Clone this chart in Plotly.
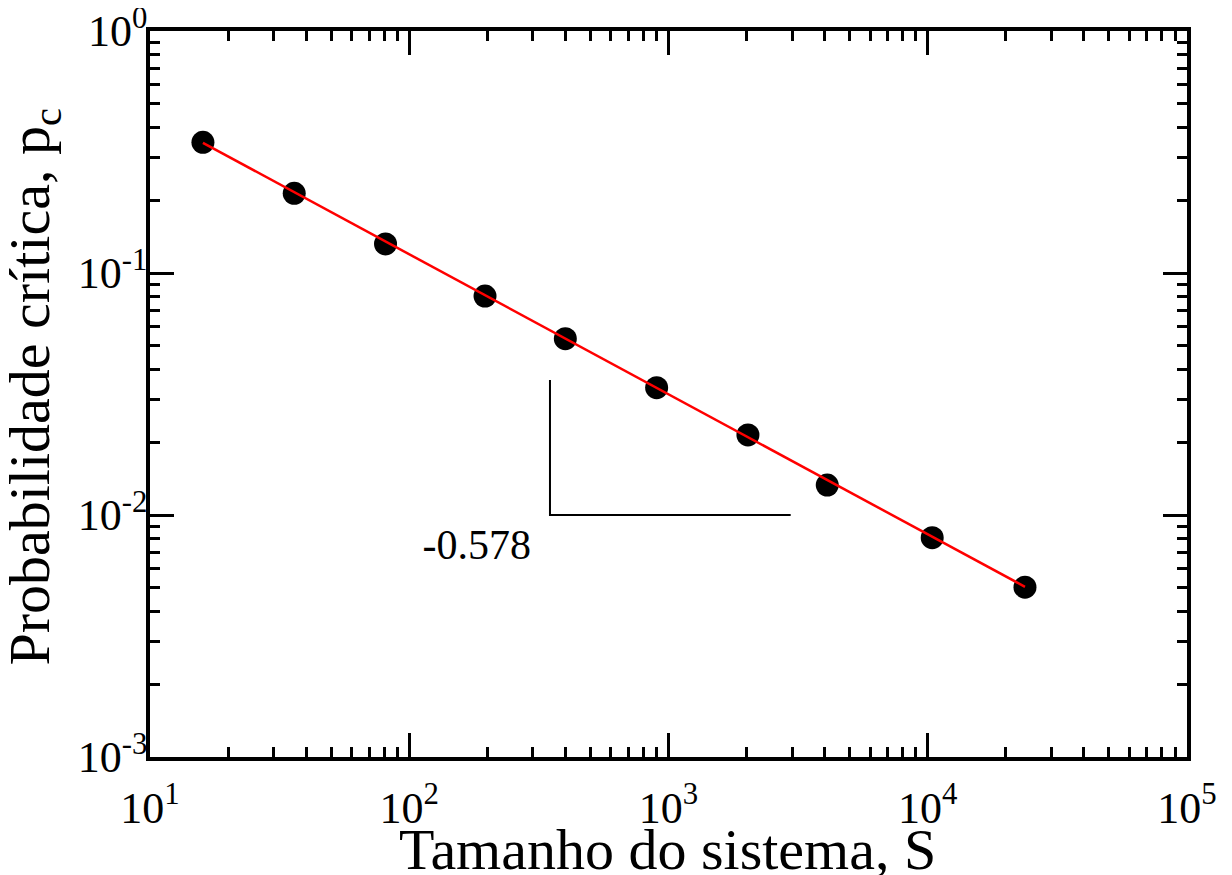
import numpy as np
import plotly.graph_objects as go

# Data
system_size = [16, 36, 81, 196, 400, 900, 2025, 4096, 10404, 23716]
critical_prob = [0.3467, 0.2135, 0.1318, 0.0803, 0.0535, 0.0336, 0.02142, 0.0133, 0.00806, 0.00503]

# Power-law fit line (endpoints, slope -0.578)
fit_x = [16, 23716]
fit_y = [0.345, 0.00505]

# Slope guide triangle
guide_x = [349, 349, 2960]
guide_y = [0.0361, 0.01, 0.01]
slope_label = "-0.578"
slope_label_x = [182]
slope_label_y = [0.0073]

# Axis ticks
x_tickvals = [1e1, 1e2, 1e3, 1e4, 1e5]
x_ticktext = ["10<sup>1</sup>", "10<sup>2</sup>", "10<sup>3</sup>", "10<sup>4</sup>", "10<sup>5</sup>"]
y_tickvals = [1e-3, 1e-2, 1e-1, 1e0]
y_ticktext = ["10<sup>-3</sup>", "10<sup>-2</sup>", "10<sup>-1</sup>", "10<sup>0</sup>"]

x_title = "Tamanho do sistema, S"
y_title = "Probabilidade crítica, p<sub>c</sub>"

x_minor = [m * 10**e for e in range(1, 5) for m in range(2, 10)]
y_minor = [m * 10**e for e in range(-3, 0) for m in range(2, 10)]

FONT = "Liberation Serif, Times New Roman, serif"

fig = go.Figure()

fig.add_trace(go.Scatter(
    x=system_size, y=critical_prob, mode="markers",
    marker=dict(color="black", size=23, line=dict(width=0)),
    showlegend=False, hoverinfo="x+y"))

fig.add_trace(go.Scatter(
    x=fit_x, y=fit_y, mode="lines",
    line=dict(color="#ff0000", width=2.5),
    showlegend=False))

fig.add_trace(go.Scatter(
    x=guide_x, y=guide_y, mode="lines",
    line=dict(color="black", width=2),
    showlegend=False, hoverinfo="skip"))

fig.add_trace(go.Scatter(
    x=slope_label_x, y=slope_label_y, mode="text",
    text=[slope_label], textfont=dict(family=FONT, size=42, color="black"),
    showlegend=False, hoverinfo="skip"))

axis_common = dict(
    type="log",
    automargin=False,
    showline=True, linecolor="black", linewidth=3.5,
    mirror="allticks",
    ticks="inside", ticklen=24, tickwidth=3, tickcolor="black",
    showgrid=False, zeroline=False,
    ticklabeloverflow="allow",
    tickfont=dict(family=FONT, size=44, color="black"),
)

fig.update_xaxes(
    **axis_common,
    range=[1, 5],
    tickvals=x_tickvals, ticktext=x_ticktext,
    ticklabelstandoff=9,
    minor=dict(tickvals=x_minor, ticks="inside", ticklen=10, tickwidth=3, tickcolor="black", showgrid=False),
)
fig.update_yaxes(
    **axis_common,
    range=[-3, 0],
    tickvals=y_tickvals, ticktext=y_ticktext,
    ticklabelstandoff=-10,
    minor=dict(tickvals=y_minor, ticks="inside", ticklen=10, tickwidth=3, tickcolor="black", showgrid=False),
)

fig.add_annotation(
    text=x_title, xref="paper", yref="paper", x=0.4986, y=-0.1275,
    xanchor="center", yanchor="middle", showarrow=False,
    font=dict(family=FONT, size=58, color="black"))
fig.add_annotation(
    text=y_title, xref="paper", yref="paper", x=-0.112, y=0.510,
    xanchor="center", yanchor="middle", showarrow=False, textangle=-90,
    font=dict(family=FONT, size=58, color="black"))

fig.update_layout(
    width=1220, height=867,
    margin=dict(l=142, r=41, t=23, b=118),
    plot_bgcolor="white", paper_bgcolor="white",
    font=dict(family=FONT, color="black"),
    showlegend=False,
)

fig.write_html("out.html")
